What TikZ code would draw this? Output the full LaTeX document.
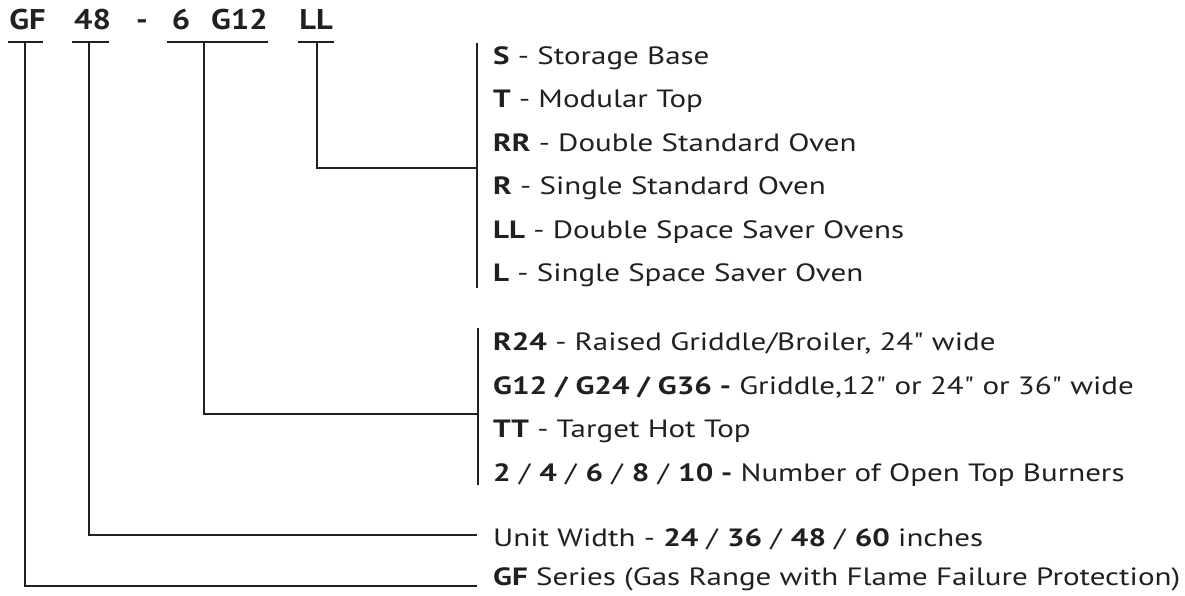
\documentclass[tikz,border=0pt]{standalone}
\usepackage{fontspec}
\setmainfont{PT Sans}[Ligatures=TeXOff]
\newfontfamily\bodyfont{PT Sans}[Ligatures=TeXOff, FakeStretch=1.24]
\newfontfamily\hdrfont{PT Sans}[Ligatures=TeXOff, FakeStretch=1.14]
\definecolor{ink}{HTML}{231F20}
\begin{document}
\begin{tikzpicture}[x=1pt,y=-1pt,
  lbl/.style={anchor=base west, inner sep=0pt, font=\bodyfont\fontsize{25}{28}\selectfont, text=ink},
  hdr/.style={anchor=base, inner sep=0pt, font=\hdrfont\fontsize{28.5}{30}\selectfont\bfseries, text=ink},
  ln/.style={draw=ink, line width=1.5pt}]
\useasboundingbox (0,0) rectangle (1185,596);
% header
\node[hdr] (hGF)  at (27.5,30) {GF};
\node[hdr] (h48)  at (92.5,30) {48};
\node[hdr] (hdash) at (142,30) {-};
\node[hdr] (h6)   at (181,30) {6};
\node[hdr] (hG12) at (239.5,30) {G12};
\node[hdr] (hLL)  at (316,30) {LL};
% underline bars
\coordinate (aGF) at (8,42);   \coordinate (bGF) at (43,42);  \coordinate (vGF) at (25,42);
\coordinate (a48) at (72,42);  \coordinate (b48) at (109,42); \coordinate (v48) at (89,42);
\coordinate (aG) at (167,42);  \coordinate (bG) at (268,42);  \coordinate (vG) at (204,42);
\coordinate (aLL) at (298,42); \coordinate (bLL) at (334,42); \coordinate (vLL) at (317,42);
\draw[ln] (aGF) -- (bGF);
\draw[ln] (a48) -- (b48);
\draw[ln] (aG) -- (bG);
\draw[ln] (aLL) -- (bLL);
% brackets
\coordinate (k1t) at (477,43);  \coordinate (k1b) at (477,288); \coordinate (k1m) at (477,168);
\coordinate (k2t) at (478,328); \coordinate (k2b) at (478,485); \coordinate (k2m) at (478,414);
\draw[ln] (k1t) -- (k1b);
\draw[ln] (k2t) -- (k2b);
% option texts
\node[lbl] (s)   at (493,64.5)  {\textbf{S} - Storage Base};
\node[lbl] (t)   at (493,108)   {\textbf{T} - Modular Top};
\node[lbl] (rr)  at (493,151.5) {\textbf{RR} - Double Standard Oven};
\node[lbl] (r)   at (493,195)   {\textbf{R} - Single Standard Oven};
\node[lbl] (ll)  at (493,238)   {\textbf{LL} - Double Space Saver Ovens};
\node[lbl] (l)   at (493,281.5) {\textbf{L} - Single Space Saver Oven};
\node[lbl] (r24) at (493,350.5) {\textbf{R24} - Raised Griddle/Broiler, 24" wide};
\node[lbl] (g12) at (493,394)   {\textbf{G12 / G24 / G36 -} Griddle,12" or 24" or 36" wide};
\node[lbl] (tt)  at (493,437)   {\textbf{TT} - Target Hot Top};
\node[lbl] (num) at (493,481)   {\textbf{2} / \textbf{4} / \textbf{6} / \textbf{8} / \textbf{10 -} Number of Open Top Burners};
\node[lbl] (uw)  at (493,546.5) {Unit Width - \textbf{24} / \textbf{36} / \textbf{48} / \textbf{60} inches};
\node[lbl] (gf)  at (493,585.5) {\textbf{GF} Series (Gas Range with Flame Failure Protection)};
% connectors
\coordinate (eUW) at (477,535);
\coordinate (eGF) at (477,586);
\draw[ln] (vLL) |- (k1m);
\draw[ln] (vG) |- (k2m);
\draw[ln] (v48) |- (eUW);
\draw[ln] (vGF) |- (eGF);
\end{tikzpicture}
\end{document}
